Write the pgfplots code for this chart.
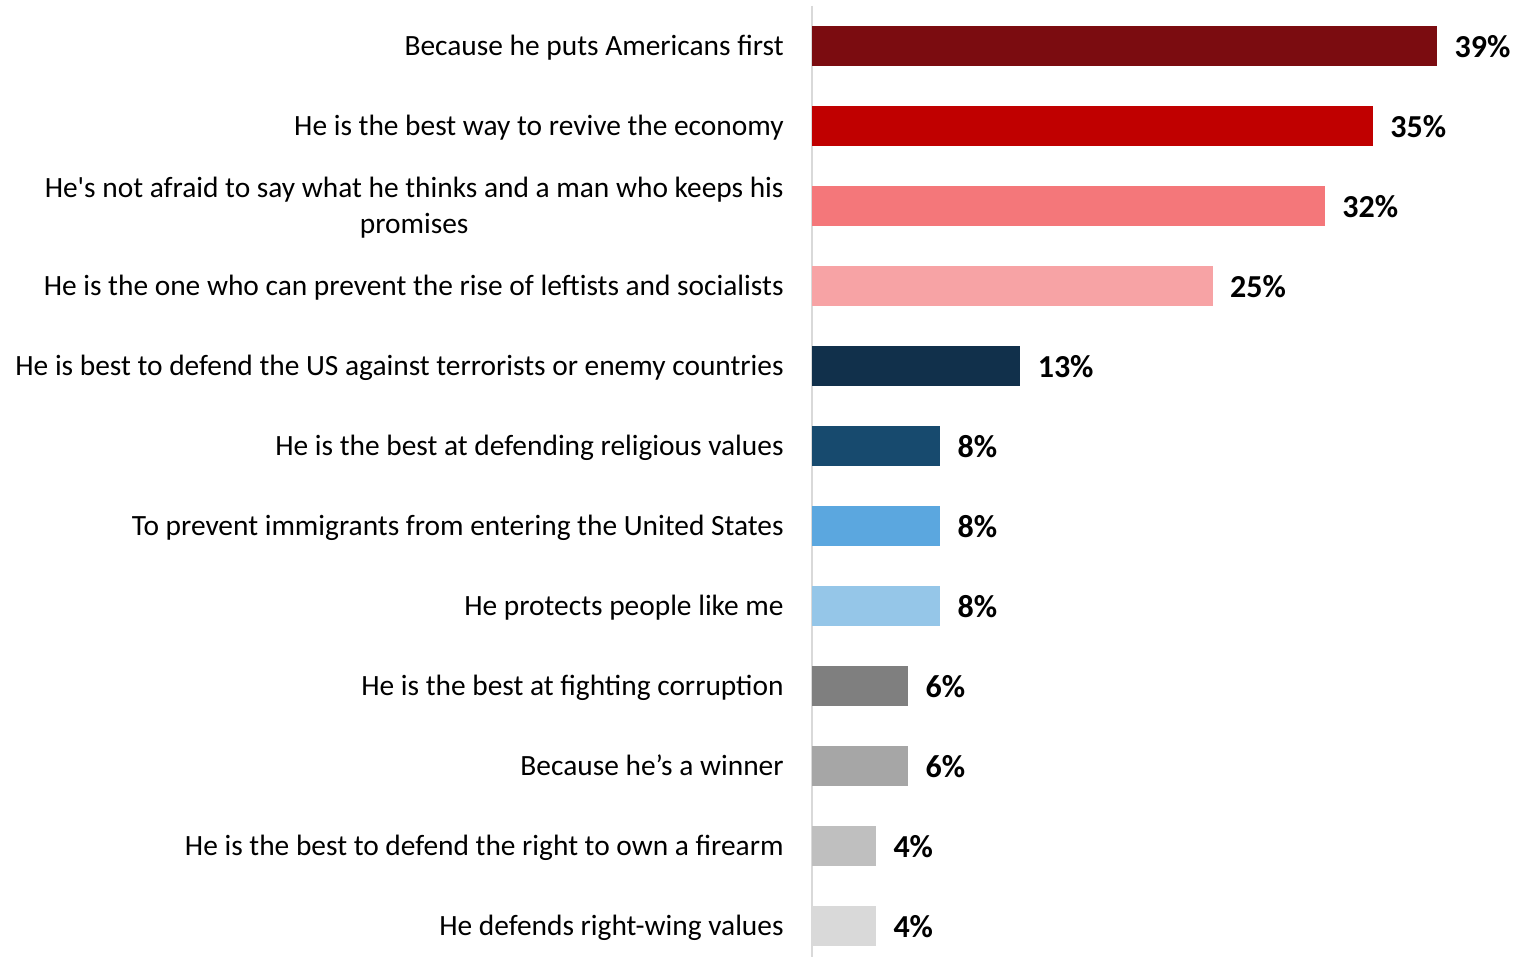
\documentclass[border=0pt]{standalone}
\usepackage{pgfplots}
\pgfplotsset{compat=1.18}
\usepackage{fontspec}
\setmainfont{Carlito}
\definecolor{c1}{RGB}{123,12,16}
\definecolor{c2}{RGB}{192,0,0}
\definecolor{c3}{RGB}{244,119,122}
\definecolor{c4}{RGB}{247,163,165}
\definecolor{c5}{RGB}{17,48,75}
\definecolor{c6}{RGB}{23,74,110}
\definecolor{c7}{RGB}{91,167,223}
\definecolor{c8}{RGB}{149,198,232}
\definecolor{c9}{RGB}{127,127,127}
\definecolor{c10}{RGB}{166,166,166}
\definecolor{c11}{RGB}{191,191,191}
\definecolor{c12}{RGB}{217,217,217}
\definecolor{axgray}{RGB}{217,217,217}
\begin{document}
\begin{tikzpicture}
\useasboundingbox (0,0) rectangle (760.5pt,478.5pt);
\begin{axis}[
  at={(406pt,0pt)}, anchor=south west,
  scale only axis, width=354.5pt, height=475.5pt,
  xmin=0, xmax=44.23, ymin=-0.5, ymax=11.3875,
  y dir=reverse,
  axis x line=none, axis y line*=left,
  y axis line style={draw=axgray, line width=1pt, -},
  ytick={0,...,11}, major tick length=0pt,
  yticklabels={
    Because he puts Americans first\strut,
    He is the best way to revive the economy\strut,
    {He\textquotesingle s not afraid to say what he thinks and a man who keeps his\strut\\promises\strut},
    He is the one who can prevent the rise of leftists and socialists\strut,
    He is best to defend the US against terrorists or enemy countries\strut,
    He is the best at defending religious values\strut,
    To prevent immigrants from entering the United States\strut,
    He protects people like me\strut,
    He is the best at fighting corruption\strut,
    Because he’s a winner\strut,
    He is the best to defend the right to own a firearm\strut,
    He defends right-wing values\strut},
  yticklabel style={font=\fontsize{14.7}{18}\selectfont, align=center, inner sep=0pt, xshift=-14pt, yshift=-1pt},
  xbar, bar width=20pt, bar shift=0pt,
  clip=false,
  point meta=x,
  nodes near coords={\pgfmathprintnumber[assume math mode=true]{\pgfplotspointmeta}\%},
  nodes near coords style={font=\fontsize{16}{19}\selectfont\bfseries, anchor=west, inner sep=0pt, xshift=8.5pt, yshift=-0.5pt, text=black},
]
\addplot[fill=c1, draw=none] coordinates {(39,0)};
\addplot[fill=c2, draw=none] coordinates {(35,1)};
\addplot[fill=c3, draw=none] coordinates {(32,2)};
\addplot[fill=c4, draw=none] coordinates {(25,3)};
\addplot[fill=c5, draw=none] coordinates {(13,4)};
\addplot[fill=c6, draw=none] coordinates {(8,5)};
\addplot[fill=c7, draw=none] coordinates {(8,6)};
\addplot[fill=c8, draw=none] coordinates {(8,7)};
\addplot[fill=c9, draw=none] coordinates {(6,8)};
\addplot[fill=c10, draw=none] coordinates {(6,9)};
\addplot[fill=c11, draw=none] coordinates {(4,10)};
\addplot[fill=c12, draw=none] coordinates {(4,11)};
\end{axis}
\end{tikzpicture}
\end{document}
